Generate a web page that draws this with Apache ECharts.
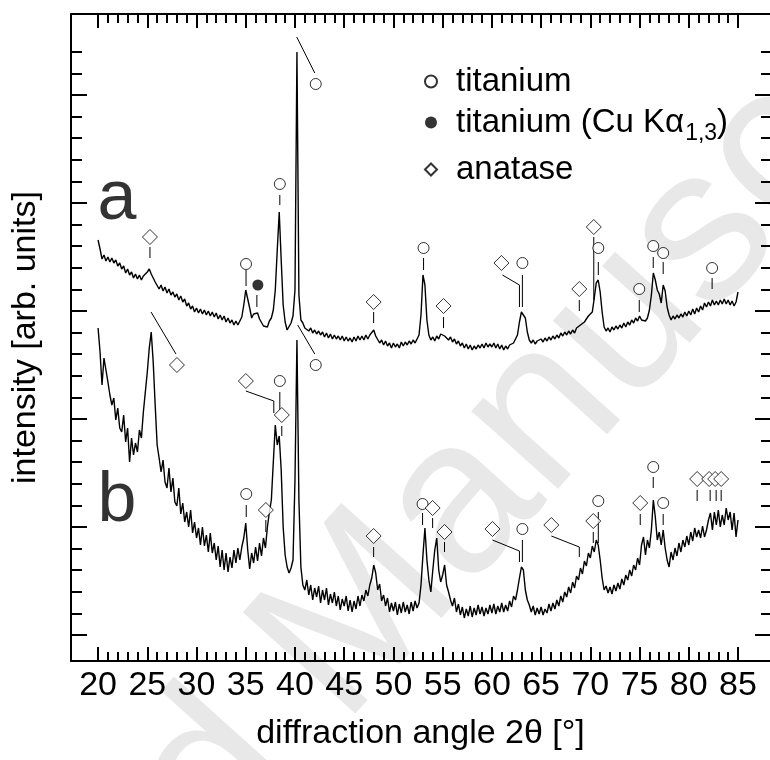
<!doctype html>
<html>
<head>
<meta charset="UTF-8">
<title>XRD</title>
<style>
  html, body { margin: 0; padding: 0; background: #fff; }
  #chart { width: 770px; height: 760px; }
</style>
</head>
<body>
<div id="chart"></div>
<script src="https://cdn.jsdelivr.net/npm/echarts@6/dist/echarts.min.js"></script>
<script>
// sampling grid of both scans (degrees 2theta)
var angleStart = 20, angleStep = 0.2;

// trace a (titanium + anatase, upper)
var intensityA = [
  421, 412, 402, 406, 400, 404, 399, 403, 398, 401,   // 20
  395, 398, 392, 395, 388, 392, 386, 389, 383, 387,   // 22
  382, 386, 381, 385, 384, 389, 392, 387, 383, 379,   // 24
  377, 372, 376, 370, 374, 368, 372, 366, 369, 364,   // 26
  367, 361, 365, 359, 362, 355, 358, 352, 355, 349,   // 28
  353, 348, 352, 347, 351, 346, 350, 345, 349, 344,   // 30
  348, 342, 346, 341, 345, 339, 343, 338, 341, 336,   // 32
  340, 336, 340, 344, 356, 371, 369, 353, 343, 347,   // 34
  349, 348, 342, 340, 335, 336, 334, 340, 343, 351,   // 36
  371, 411, 449, 401, 356, 339, 331, 333, 338, 345,   // 38
  371, 609, 366, 341, 338, 333, 335, 330, 333, 328,   // 40
  331, 327, 330, 326, 329, 324, 328, 323, 327, 322,   // 42
  326, 322, 325, 321, 325, 320, 324, 320, 323, 319,   // 44
  324, 320, 325, 321, 325, 321, 326, 322, 326, 328,   // 46
  331, 325, 323, 318, 321, 316, 320, 315, 318, 313,   // 48
  318, 314, 317, 313, 319, 315, 319, 316, 320, 317,   // 50
  321, 318, 322, 326, 346, 386, 376, 341, 326, 321,   // 52
  324, 320, 325, 322, 327, 329, 325, 326, 321, 324,   // 54
  319, 322, 317, 320, 315, 318, 313, 317, 312, 316,   // 56
  311, 315, 312, 316, 313, 317, 313, 318, 314, 317,   // 58
  314, 318, 313, 317, 312, 316, 311, 315, 312, 316,   // 60
  314, 318, 320, 326, 339, 349, 351, 343, 329, 321,   // 62
  318, 321, 317, 320, 318, 322, 319, 323, 320, 324,   // 64
  321, 325, 322, 326, 323, 328, 325, 329, 326, 330,   // 66
  327, 331, 328, 333, 331, 336, 334, 339, 338, 345,   // 68
  344, 349, 363, 378, 381, 369, 349, 334, 330, 333,   // 70
  329, 334, 331, 335, 332, 336, 333, 338, 334, 339,   // 72
  336, 341, 338, 343, 340, 345, 341, 342, 340, 343,   // 74
  351, 366, 388, 381, 371, 367, 358, 376, 370, 354,   // 76
  346, 341, 345, 342, 346, 343, 347, 344, 349, 345,   // 78
  350, 346, 352, 347, 353, 349, 355, 351, 358, 354,   // 80
  359, 355, 361, 356, 360, 356, 361, 357, 362, 357,   // 82
  361, 356, 360, 355, 359, 369                        // 84
];

// trace b (lower)
var intensityB = [
  333, 309, 276, 303, 291, 279, 266, 256, 263, 241,   // 20
  253, 233, 229, 246, 219, 233, 199, 223, 206, 218,   // 22
  209, 231, 223, 249, 269, 289, 313, 329, 299, 256,   // 24
  216, 203, 189, 201, 179, 173, 193, 169, 183, 159,   // 26
  155, 173, 147, 158, 139, 149, 134, 151, 128, 139,   // 28
  123, 133, 116, 134, 115, 126, 109, 128, 108, 118,   // 30
  101, 115,  94, 111,  91, 108,  89, 104,  93, 111,   // 32
   98, 113, 101, 114, 123, 138, 111,  92, 108,  98,   // 34
  114, 100, 118, 105, 123, 113, 134, 149, 161, 199,   // 36
  236, 216, 225, 191, 134, 106,  94,  88,  93, 101,   // 38
  181, 321, 161,  94,  76,  71,  81,  66,  76,  61,   // 40
   73,  64,  75,  58,  71,  61,  73,  56,  67,  58,   // 42
   69,  55,  65,  51,  62,  55,  65,  50,  61,  49,   // 44
   60,  52,  65,  55,  66,  60,  71,  65,  76,  83,   // 46
   96,  88,  71,  77,  60,  66,  55,  63,  49,  58,   // 48
   50,  59,  46,  57,  48,  59,  49,  56,  47,  59,   // 50
   50,  60,  53,  58,  76, 106, 133, 101,  81,  69,   // 52
   91, 111, 123,  91,  79,  86,  96,  76,  69,  61,   // 54
   55,  63,  49,  57,  46,  54,  43,  52,  45,  55,   // 56
   44,  53,  46,  56,  47,  54,  45,  53,  47,  56,   // 58
   48,  57,  47,  55,  49,  58,  49,  56,  50,  60,   // 60
   54,  65,  61,  71,  83,  94,  91,  71,  61,  56,   // 62
   49,  55,  46,  53,  47,  54,  46,  52,  48,  57,   // 64
   50,  58,  52,  61,  55,  65,  59,  69,  64,  74,   // 66
   68,  79,  73,  85,  81,  93,  87, 100,  95, 108,   // 68
  103, 115, 109, 121, 116, 101,  83,  71,  75,  68,   // 70
   74,  67,  76,  70,  78,  72,  82,  76,  86,  81,   // 72
   91,  85,  96,  91, 103,  96, 116, 124, 106, 121,   // 74
  113, 131, 161, 144, 121, 129, 116, 131, 113, 101,   // 76
   94, 109, 101, 113, 105, 118, 109, 121, 114, 125,   // 78
  116, 129, 120, 133, 124, 131, 123, 135, 124, 131,   // 80
  141, 148, 131, 149, 136, 151, 134, 146, 136, 153,   // 82
  141, 149, 131, 148, 124, 141                        // 84
];

// phase markers [angle, intensity]
var titaniumA = [[35.03, 397], [38.46, 477], [42.11, 577], [53.06, 413], [63.10, 398],
                 [70.81, 413], [74.97, 372], [76.39, 415], [77.40, 408], [82.37, 393]];
var titaniumB = [[38.46, 280], [42.11, 296], [35.05, 167], [52.96, 157], [63.10, 132],
                 [70.81, 160], [76.39, 194], [77.40, 158]];
var cuKa13A = [[36.23, 376]];
var anataseA = [[25.27, 424], [47.99, 359], [55.09, 355], [60.97, 398], [68.88, 372], [70.35, 434]];
var anataseB = [[28.01, 296], [35.01, 280], [38.66, 246], [37.04, 151], [47.99, 125], [53.98, 153],
                [55.19, 129], [60.06, 132], [66.04, 136], [70.30, 140], [75.07, 158],
                [80.85, 182], [82.07, 182], [82.68, 182], [83.29, 182]];

// reflection markers: short drop lines and leaders
var leadersA = [
  [[25.27, 414], [25.27, 403]],
  [[35.03, 391], [35.03, 375]],
  [[36.13, 366], [36.13, 354]],
  [[38.46, 466], [38.46, 456]],
  [[40.18, 624], [42.01, 588]],
  [[47.99, 349], [47.99, 338]],
  [[53.06, 403], [53.06, 391]],
  [[55.09, 344], [55.09, 333]],
  [[61.07, 386], [62.80, 376], [62.80, 354]],
  [[63.10, 386], [63.10, 354]],
  [[68.88, 361], [68.88, 350]],
  [[70.35, 424], [70.35, 361]],
  [[70.81, 399], [70.81, 386]],
  [[74.97, 361], [74.97, 349]],
  [[76.39, 404], [76.39, 393]],
  [[77.40, 399], [77.40, 387]],
  [[82.37, 383], [82.37, 372]]
];
var leadersB = [
  [[25.38, 349], [27.91, 307]],
  [[35.01, 270], [37.85, 260], [37.85, 248]],
  [[38.46, 269], [38.46, 251]],
  [[38.66, 235], [38.66, 225]],
  [[40.28, 336], [42.01, 307]],
  [[35.05, 156], [35.05, 144]],
  [[37.04, 141], [37.04, 129]],
  [[47.99, 114], [47.99, 104]],
  [[52.96, 148], [52.96, 136]],
  [[53.98, 143], [53.98, 133]],
  [[55.19, 119], [55.19, 109]],
  [[60.06, 121], [62.80, 110], [62.80, 99]],
  [[63.10, 121], [63.10, 99]],
  [[66.04, 125], [68.88, 114], [68.88, 104]],
  [[70.30, 129], [70.30, 118]],
  [[70.81, 149], [70.81, 118]],
  [[75.07, 147], [75.07, 136]],
  [[76.39, 184], [76.39, 173]],
  [[77.40, 147], [77.40, 136]],
  [[80.85, 171], [80.85, 160]],
  [[82.17, 171], [82.17, 160]],
  [[82.78, 171], [82.78, 160]],
  [[83.29, 171], [83.29, 160]]
];

// curve labels
var curveLabels = [[21.93, 461, 'a'], [21.93, 159, 'b']];

// axis ticks
var xMajor = [20, 25, 30, 35, 40, 45, 50, 55, 60, 65, 70, 75, 80, 85];
var xMinor = [21, 22, 23, 24, 26, 27, 28, 29, 31, 32, 33, 34, 36, 37, 38, 39, 41, 42, 43, 44,
              46, 47, 48, 49, 51, 52, 53, 54, 56, 57, 58, 59, 61, 62, 63, 64, 66, 67, 68, 69,
              71, 72, 73, 74, 76, 77, 78, 79, 81, 82, 83, 84];
var yMajor = [26, 134, 242, 350, 458, 566];
var yMinor = [47.6, 69.2, 90.8, 112.4, 155.6, 177.2, 198.8, 220.4, 263.6, 285.2, 306.8, 328.4,
              371.6, 393.2, 414.8, 436.4, 479.6, 501.2, 522.8, 544.4, 587.6, 609.2];

var FONT = '"Liberation Sans", Arial, Helvetica, sans-serif';

function toPairs(vals) {
  return vals.map(function (v, i) {
    return [Math.round((angleStart + i * angleStep) * 10) / 10, v];
  });
}

function xAxisDef(pos, ticks, len, withLine, withLabel) {
  var ax = {
    type: 'value', position: pos, min: 17.25, max: 88.25,
    axisLine: { show: withLine, onZero: false, lineStyle: { color: '#000', width: 2 } },
    axisTick: { show: true, inside: true, length: len, customValues: ticks,
                lineStyle: { color: '#000', width: 2 } },
    axisLabel: { show: false },
    splitLine: { show: false }
  };
  if (withLabel) {
    ax.axisLabel = { show: true, customValues: xMajor, margin: 8, fontSize: 34,
                     color: '#000', fontFamily: FONT };
    ax.name = 'diffraction angle 2\u03b8 [\u00b0]';
    ax.nameLocation = 'middle';
    ax.nameGap = 56;
    ax.nameTextStyle = { fontSize: 34, color: '#000', fontFamily: FONT };
  }
  return ax;
}

function yAxisDef(pos, ticks, len, withLine, withName) {
  var ax = {
    type: 'value', position: pos, min: 0, max: 647,
    axisLine: { show: withLine, onZero: false, lineStyle: { color: '#000', width: 2 } },
    axisTick: { show: true, inside: true, length: len, customValues: ticks,
                lineStyle: { color: '#000', width: 2 } },
    axisLabel: { show: false },
    splitLine: { show: false }
  };
  if (withName) {
    ax.name = 'intensity [arb. units]';
    ax.nameLocation = 'middle';
    ax.nameGap = 28;
    ax.nameTextStyle = { fontSize: 34, color: '#000', fontFamily: FONT };
  }
  return ax;
}

var openMarker = { color: '#fff', borderColor: '#000', borderWidth: 1 };

// watermark, anchored at the start of "Manuscript"
var wmX = 380, wmY = 760, wmRot = 48 * Math.PI / 180;
var wmStyle = { fontSize: 220, fontFamily: FONT, fill: '#e8e8e8', verticalAlign: 'bottom' };

var chart = echarts.init(document.getElementById('chart'), null, { renderer: 'canvas' });
chart.setOption({
  backgroundColor: '#fff',
  animation: false,
  grid: { left: 71, right: -1, top: 14, bottom: 99 },
  xAxis: [
    xAxisDef('bottom', xMajor, 14, true, true),
    xAxisDef('bottom', xMinor, 9, false, false),
    xAxisDef('top', xMajor, 14, true, false),
    xAxisDef('top', xMinor, 9, false, false)
  ],
  yAxis: [
    yAxisDef('left', yMajor, 16, true, true),
    yAxisDef('left', yMinor, 11, false, false),
    yAxisDef('right', yMajor, 15, false, false),
    yAxisDef('right', yMinor, 9, false, false)
  ],
  legend: {
    orient: 'vertical', left: 419, top: 60, itemGap: 8,
    itemWidth: 12, itemHeight: 12, selectedMode: false,
    data: ['titanium', 'titanium (Cu K\u03b11,3)', 'anatase'],
    textStyle: {
      fontSize: 33, color: '#000', fontFamily: FONT, padding: [0, 0, 0, 14],
      rich: {
        n: { fontSize: 33, color: '#000', fontFamily: FONT },
        s: { fontSize: 23, color: '#000', fontFamily: FONT, padding: [22, 0, 0, 1], verticalAlign: 'middle' }
      }
    },
    formatter: function (name) {
      if (name.indexOf('Cu') > -1) return '{n|titanium (Cu K\u03b1}{s|1,3}{n|)}';
      return name;
    }
  },
  graphic: [
    { type: 'text', z: -10, x: wmX, y: wmY, rotation: wmRot,
      style: Object.assign({ text: 'Accepted ', align: 'right' }, wmStyle) },
    { type: 'text', z: -10, x: wmX, y: wmY, rotation: wmRot,
      style: Object.assign({ text: 'Manuscript', align: 'left' }, wmStyle) }
  ],
  series: [
    { type: 'line', name: 'a', data: toPairs(intensityA), showSymbol: false, silent: true, z: 2,
      lineStyle: { color: '#000', width: 1.4 } },
    { type: 'line', name: 'b', data: toPairs(intensityB), showSymbol: false, silent: true, z: 2,
      lineStyle: { color: '#000', width: 1.4 } },
    { type: 'lines', coordinateSystem: 'cartesian2d', polyline: true, silent: true, z: 3,
      lineStyle: { color: '#000', width: 1, opacity: 1 },
      data: leadersA.concat(leadersB).map(function (c) { return { coords: c }; }) },
    { type: 'scatter', name: 'titanium', symbol: 'circle', symbolSize: 11, z: 4,
      itemStyle: openMarker, data: titaniumA.concat(titaniumB) },
    { type: 'scatter', name: 'titanium (Cu K\u03b11,3)', symbol: 'circle', symbolSize: 11, z: 4,
      itemStyle: { color: '#000' }, data: cuKa13A },
    { type: 'scatter', name: 'anatase', symbol: 'diamond', symbolSize: 15, z: 4,
      itemStyle: openMarker, data: anataseA.concat(anataseB) },
    { type: 'scatter', name: 'labels', symbolSize: 0, z: 5, silent: true, data: curveLabels,
      label: { show: true, position: [0, 0], align: 'center', verticalAlign: 'middle',
               fontSize: 70, color: '#000', textBorderWidth: 0, fontFamily: FONT,
               formatter: function (p) { return p.data[2]; } } }
  ]
});
</script>
</body>
</html>
